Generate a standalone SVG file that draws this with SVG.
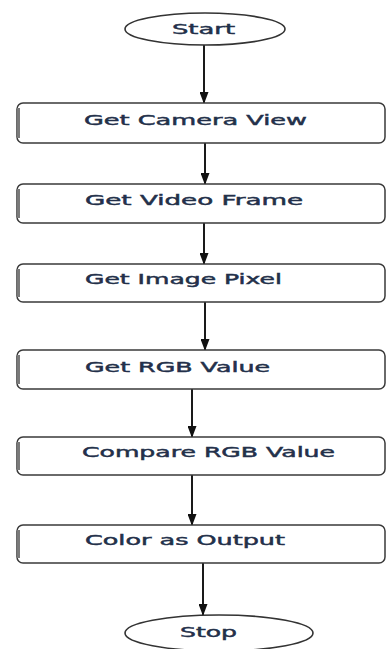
<svg xmlns="http://www.w3.org/2000/svg" width="387" height="649" viewBox="0 0 387 649">
<style>
.bg{fill:#ffffff}
.box{fill:#ffffff;stroke:#3a3a3a;stroke-width:1.5}
.shadow{fill:none;stroke:#7a7a7a;stroke-width:3}
.term{fill:#ffffff;stroke:#333333;stroke-width:1.6}
.lbl{font-family:"DejaVu Sans",Verdana,sans-serif;font-size:14px;font-weight:normal;fill:#23304a;stroke:#23304a;stroke-width:0.45}
.conn{stroke:#1a1a1a;stroke-width:2;fill:none;marker-end:url(#ah)}
</style>
<defs>
<marker id="ah" viewBox="0 0 12 9" refX="11" refY="4.5" markerWidth="12" markerHeight="9" markerUnits="userSpaceOnUse" orient="auto">
<path d="M0,0 L12,4.5 L0,9 Z" fill="#111111"/>
</marker>
</defs>
<rect class="bg" x="0" y="0" width="387" height="649"/>
<g id="connectors">
<line class="conn" x1="204" y1="45" x2="204" y2="103"/>
<line class="conn" x1="205" y1="143" x2="205" y2="184"/>
<line class="conn" x1="204" y1="223" x2="204" y2="264"/>
<line class="conn" x1="205" y1="302" x2="205" y2="350"/>
<line class="conn" x1="192" y1="389" x2="192" y2="437"/>
<line class="conn" x1="192" y1="475" x2="192" y2="525"/>
<line class="conn" x1="203" y1="563" x2="203" y2="615"/>
</g>
<g id="start">
<ellipse class="term" cx="205" cy="29" rx="80" ry="16"/>
<text class="lbl" x="172" y="34" textLength="63" lengthAdjust="spacingAndGlyphs">Start</text>
</g>
<g id="camera">
<rect class="box" x="17" y="103" width="368" height="40" rx="6"/>
<path class="shadow" d="M18.5,108 V138"/>
<text class="lbl" x="84" y="125" textLength="223" lengthAdjust="spacingAndGlyphs">Get Camera View</text>
</g>
<g id="frame">
<rect class="box" x="17" y="184" width="368" height="39" rx="6"/>
<path class="shadow" d="M18.5,189 V218"/>
<text class="lbl" x="85" y="205" textLength="218" lengthAdjust="spacingAndGlyphs">Get Video Frame</text>
</g>
<g id="pixel">
<rect class="box" x="17" y="264" width="368" height="38" rx="6"/>
<path class="shadow" d="M18.5,269 V297"/>
<text class="lbl" x="85" y="284" textLength="197" lengthAdjust="spacingAndGlyphs">Get Image Pixel</text>
</g>
<g id="rgb">
<rect class="box" x="17" y="350" width="368" height="39" rx="6"/>
<path class="shadow" d="M18.5,355 V384"/>
<text class="lbl" x="85" y="372" textLength="185" lengthAdjust="spacingAndGlyphs">Get RGB Value</text>
</g>
<g id="compare">
<rect class="box" x="17" y="437" width="368" height="38" rx="6"/>
<path class="shadow" d="M18.5,442 V470"/>
<text class="lbl" x="82" y="457" textLength="253" lengthAdjust="spacingAndGlyphs">Compare RGB Value</text>
</g>
<g id="output">
<rect class="box" x="17" y="525" width="368" height="38" rx="6"/>
<path class="shadow" d="M18.5,530 V558"/>
<text class="lbl" x="85" y="545" textLength="200" lengthAdjust="spacingAndGlyphs">Color as Output</text>
</g>
<g id="stop">
<ellipse class="term" cx="219" cy="633" rx="94" ry="18"/>
<text class="lbl" x="180" y="637" textLength="57" lengthAdjust="spacingAndGlyphs">Stop</text>
</g>
</svg>
